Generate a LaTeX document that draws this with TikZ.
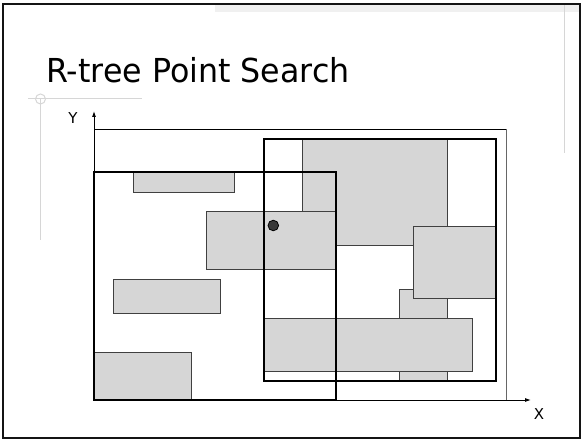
\documentclass[tikz,border=0pt]{standalone}
\usepackage{fontspec}
\setmainfont{DejaVu Sans}
\usetikzlibrary{arrows.meta}
\begin{document}
\begin{tikzpicture}[x=1pt,y=-1pt,
  deco/.style={draw=black!16,line width=1pt},
  leaf/.style={fill=black!16,draw=black!75,line width=0.9pt},
  mbr/.style={draw=black,line width=2.7pt},
  axis/.style={draw=black,line width=0.9pt,-{Latex[length=6pt,width=4pt]}},
  lbl/.style={font=\fontsize{15}{17}\selectfont,inner sep=0pt}]
\useasboundingbox (0,0) rectangle (583,441);
% slide decoration
\fill[black!6] (215,5) rectangle (580,12);
\draw[deco] (564,5) -- (564,153);
\draw[deco] (28,99) -- (142,99);
\draw[deco] (40.5,99) -- (40.5,240);
\draw[deco] (40.5,99) circle (5);
\draw[black!92,line width=2.3pt] (3,4) rectangle (580,438);
% title
\node[anchor=base west,inner sep=0pt,xscale=0.96,font=\fontsize{33}{36}\selectfont] (title) at (46,83) {R-tree Point Search};
% root bounding region
\draw[black,line width=0.9pt] (94,129) -- (506,129);
\draw[black!60,line width=0.9pt] (506,129) -- (506,400);
% leaf entries
\path[leaf] (302,139) rectangle (447,245);
\path[leaf] (399,289) rectangle (447,381);
\path[leaf] (413,226) rectangle (496,298);
\path[leaf] (264,318) rectangle (472,371);
\path[leaf] (206,211) rectangle (335,269);
\path[leaf] (133,172) rectangle (234,192);
\path[leaf] (113,279) rectangle (220,313);
\path[leaf] (94,352) rectangle (191,400);
% internal node regions
\draw[mbr] (94,172) rectangle (336,400);
\draw[mbr] (264,139) rectangle (496,381);
% axes
\coordinate (o) at (94,400);
\coordinate (xend) at (531,400);
\coordinate (yend) at (94,111);
\draw[axis] (o) -- (xend);
\draw[axis] (o) -- (yend);
\node[lbl] (xl) at (539,414) {X};
\node[lbl] (yl) at (73,118) {Y};
% query point
\fill[black!78,draw=black,line width=0.8pt] (273.3,225.5) circle (5.3);
\end{tikzpicture}
\end{document}
